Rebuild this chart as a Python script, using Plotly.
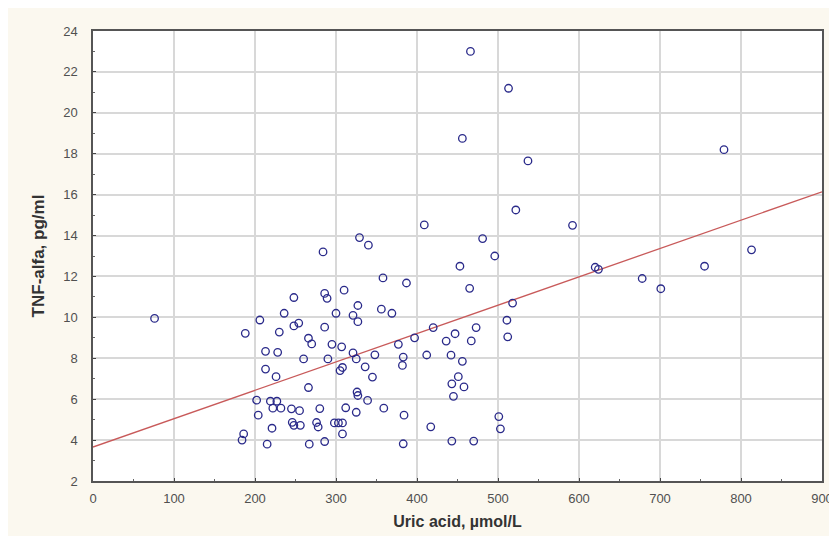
import plotly.graph_objects as go

uric_acid = [76, 184, 186, 188, 202, 204, 206, 213, 213, 215, 219, 221, 222, 226, 227, 228, 230, 232,
             236, 245, 246, 248, 248, 248, 254, 255, 256, 260, 266, 266, 267, 270, 276, 278, 280, 284,
             286, 286, 286, 289, 290, 295, 298, 300, 303, 305, 308, 307, 308, 308, 310, 312, 321, 321,
             325, 325, 326, 327, 327, 327, 329, 336, 339, 340, 345, 348, 356, 358, 359, 369, 377, 383,
             382, 384, 383, 387, 397, 409, 412, 417, 420, 436, 442, 443, 443, 445, 447, 451, 453, 456,
             456, 458, 465, 466, 467, 470, 473, 481, 496, 501, 503, 511, 512, 513, 518, 522, 537, 592,
             620, 624, 678, 701, 755, 779, 813]
tnf_alfa = [9.95, 4.0, 4.3, 9.22, 5.95, 5.22, 9.87, 8.34, 7.47, 3.8, 5.9, 4.58, 5.56, 7.1, 5.9, 8.29, 9.28, 5.56,
            10.2, 5.53, 4.87, 4.72, 9.58, 10.97, 9.72, 5.44, 4.72, 7.97, 6.57, 8.98, 3.8, 8.7, 4.86, 4.64, 5.54, 13.2,
            11.17, 9.52, 3.93, 10.93, 7.97, 8.68, 4.84, 10.2, 4.84, 7.4, 7.55, 8.56, 4.84, 4.3, 11.33, 5.58, 10.1, 8.26,
            7.97, 5.36, 6.35, 6.18, 10.58, 9.79, 13.9, 7.58, 5.94, 13.53, 7.08, 8.17, 10.4, 11.93, 5.56, 10.2, 8.68, 8.06,
            7.65, 5.22, 3.82, 11.68, 9.0, 14.52, 8.16, 4.65, 9.5, 8.84, 8.15, 6.75, 3.95, 6.14, 9.2, 7.1, 12.5, 18.75,
            7.85, 6.6, 11.42, 23.0, 8.85, 3.95, 9.5, 13.85, 13.0, 5.15, 4.55, 9.86, 9.05, 21.2, 10.7, 15.25, 17.65, 14.5,
            12.45, 12.35, 11.9, 11.4, 12.5, 18.2, 13.3]

fit_x = [0, 900]
fit_y = [3.66, 16.14]

x_ticks = [0, 100, 200, 300, 400, 500, 600, 700, 800, 900]
y_ticks = [2, 4, 6, 8, 10, 12, 14, 16, 18, 20, 22, 24]

FONT = "Liberation Sans, Arial, sans-serif"

fig = go.Figure()
fig.add_trace(go.Scatter(
    x=fit_x, y=fit_y, mode="lines",
    line=dict(color="#c85a5a", width=1.3),
    hoverinfo="skip", showlegend=False))
fig.add_trace(go.Scatter(
    x=uric_acid, y=tnf_alfa, mode="markers",
    marker=dict(symbol="circle-open", size=7.5, color="#2a2a8a", line=dict(width=1.3, color="#2a2a8a")),
    showlegend=False))

axis_common = dict(
    showline=True, linecolor="#555555", linewidth=1.5, mirror=True,
    showgrid=True, gridcolor="#d8d8d8", gridwidth=1.5,
    zeroline=False, ticks="inside", ticklen=3, tickcolor="#444444",
    tickfont=dict(family=FONT, size=13, color="#505050"),
    minor=dict(ticks="inside", ticklen=2, tickcolor="#666666", showgrid=False),
)

fig.update_xaxes(
    range=[0, 900], tickvals=x_ticks, ticktext=[str(v) for v in x_ticks],
    title=dict(text="<b>Uric acid, µmol/L</b>", font=dict(family=FONT, size=16, color="#333333"), standoff=10),
    ticklabelstandoff=5,
    **axis_common)
fig.update_yaxes(
    range=[2, 24], tickvals=y_ticks, ticktext=[str(v) for v in y_ticks],
    title=dict(text="<b>TNF-alfa, pg/ml</b>", font=dict(family=FONT, size=17, color="#333333"), standoff=14),
    ticklabelstandoff=11,
    **axis_common)

fig.update_layout(
    width=837, height=536,
    margin=dict(l=85, r=14, t=23, b=63),
    paper_bgcolor="#fbf8ef", plot_bgcolor="#ffffff",
)

fig.write_html("out.html")
